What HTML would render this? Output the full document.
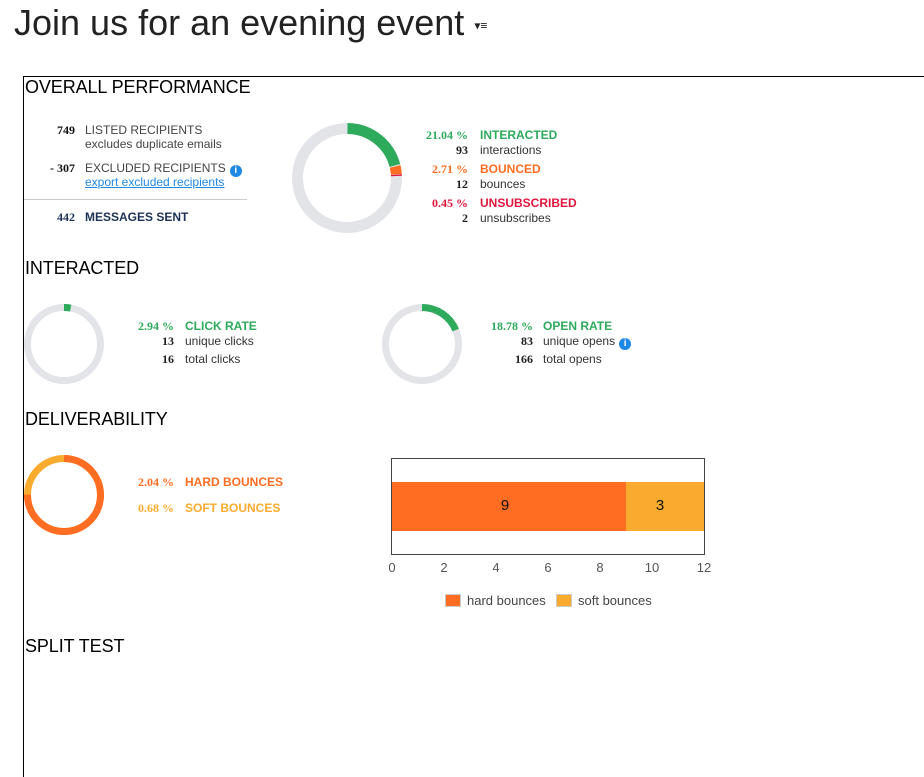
<!DOCTYPE html>
<html><head><meta charset="utf-8"><style>
body{margin:0;width:924px;height:724px;overflow:hidden;background:#fff;font-family:"Liberation Sans",Arial,sans-serif;position:relative}
.a{position:absolute;white-space:nowrap}
h1{position:absolute;left:14px;top:2px;margin:0;font-weight:normal;font-size:36px;color:#222}
.box{position:absolute;left:23px;top:76px;width:960px;height:700px;border-left:1px solid #000;border-top:1px solid #000}
.sec{position:absolute;left:25px;font-size:18px;color:#000;letter-spacing:-0.1px}
.n{font-family:"Liberation Serif",serif;font-weight:bold;font-size:12px;text-align:right;width:60px}
.l{font-size:12px;color:#444}
.b{font-weight:bold}
.i{display:inline-block;width:12px;height:12px;border-radius:6px;background:#1e88e5;color:#fff;font-size:10px;text-align:center;line-height:12px;font-weight:bold;vertical-align:-1px;margin-left:4px}
</style></head><body>
<h1>Join us for an evening event <span style="font-size:12px;vertical-align:middle">&#9662;&#8801;</span></h1>
<div class="box"></div>
<div class="sec" style="top:77px">OVERALL PERFORMANCE</div>
<div class="sec" style="top:258px">INTERACTED</div>
<div class="sec" style="top:409px">DELIVERABILITY</div>
<div class="sec" style="top:636px">SPLIT TEST</div>

<div class="a n" style="left:15px;top:123px;color:#111">749</div>
<div class="a l" style="left:85px;top:123px">LISTED RECIPIENTS</div>
<div class="a l" style="left:85px;top:137px">excludes duplicate emails</div>
<div class="a n" style="left:15px;top:161px;color:#111">- 307</div>
<div class="a l" style="left:85px;top:161px">EXCLUDED RECIPIENTS<span class="i">i</span></div>
<div class="a l" style="left:85px;top:175px;color:#1e88e5;text-decoration:underline">export excluded recipients</div>
<div class="a" style="left:24px;top:199px;width:223px;border-top:1px solid #ccc"></div>
<div class="a n" style="left:15px;top:210px;color:#1c3256">442</div>
<div class="a l b" style="left:85px;top:210px;color:#1c3256">MESSAGES SENT</div>

<svg class="a" style="left:0;top:0" width="924" height="724">
<g fill="none">
<circle cx="347" cy="178" r="49.5" stroke="#e3e4e8" stroke-width="11"/>
<circle cx="347" cy="178" r="49.5" stroke="#2eaa5c" stroke-width="11" stroke-dasharray="64.4 400" stroke-dashoffset="-0.5" transform="rotate(-90 347 178)"/>
<circle cx="347" cy="178" r="49.5" stroke="#ff6d22" stroke-width="11" stroke-dasharray="7.9 400" stroke-dashoffset="-65.9" transform="rotate(-90 347 178)"/>
<circle cx="347" cy="178" r="49.5" stroke="#e0163c" stroke-width="11" stroke-dasharray="1.4 400" stroke-dashoffset="-74.2" transform="rotate(-90 347 178)"/>

<circle cx="64" cy="344" r="36.5" stroke="#e3e4e8" stroke-width="7"/>
<circle cx="64" cy="344" r="36.5" stroke="#2eaa5c" stroke-width="7" stroke-dasharray="6.7 400" transform="rotate(-90 64 344)"/>
<circle cx="422" cy="344" r="36.5" stroke="#e3e4e8" stroke-width="7"/>
<circle cx="422" cy="344" r="36.5" stroke="#2eaa5c" stroke-width="7" stroke-dasharray="43 400" transform="rotate(-90 422 344)"/>

<circle cx="64" cy="495" r="36.5" stroke="#f9ab2f" stroke-width="7"/>
<circle cx="64" cy="495" r="36.5" stroke="#ff6d22" stroke-width="7" stroke-dasharray="172 400" transform="rotate(-90 64 495)"/>
</g>
<rect x="391.5" y="458.5" width="313" height="96" fill="#fff" stroke="#444"/>
<rect x="392" y="482" width="234" height="49" fill="#ff6d22"/>
<rect x="626" y="482" width="78" height="49" fill="#f9ab2f"/>
<g font-size="15" fill="#111" text-anchor="middle"><text x="505" y="510">9</text><text x="660" y="510">3</text></g>
<g font-size="13" fill="#555" text-anchor="middle">
<text x="392" y="572">0</text><text x="444" y="572">2</text><text x="496" y="572">4</text><text x="548" y="572">6</text><text x="600" y="572">8</text><text x="652" y="572">10</text><text x="704" y="572">12</text>
</g>
<rect x="445.5" y="594.5" width="15" height="12" fill="#ff6d22" stroke="#ccc"/>
<rect x="556.5" y="594.5" width="15" height="12" fill="#f9ab2f" stroke="#ccc"/>
<g font-size="13" fill="#444"><text x="467" y="605">hard bounces</text><text x="578" y="605">soft bounces</text></g>
</svg>

<div class="a n" style="left:408px;top:128px;color:#2eaa5c">21.04 %</div>
<div class="a l b" style="left:480px;top:128px;color:#2eaa5c">INTERACTED</div>
<div class="a n" style="left:408px;top:143px;color:#222">93</div>
<div class="a l" style="left:480px;top:143px;color:#333">interactions</div>
<div class="a n" style="left:408px;top:162px;color:#ff6d22">2.71 %</div>
<div class="a l b" style="left:480px;top:162px;color:#ff6d22">BOUNCED</div>
<div class="a n" style="left:408px;top:177px;color:#222">12</div>
<div class="a l" style="left:480px;top:177px;color:#333">bounces</div>
<div class="a n" style="left:408px;top:196px;color:#e0163c">0.45 %</div>
<div class="a l b" style="left:480px;top:196px;color:#e0163c">UNSUBSCRIBED</div>
<div class="a n" style="left:408px;top:211px;color:#222">2</div>
<div class="a l" style="left:480px;top:211px;color:#333">unsubscribes</div>

<div class="a n" style="left:114px;top:319px;color:#2eaa5c">2.94 %</div>
<div class="a l b" style="left:185px;top:319px;color:#2eaa5c">CLICK RATE</div>
<div class="a n" style="left:114px;top:334px;color:#222">13</div>
<div class="a l" style="left:185px;top:334px;color:#333">unique clicks</div>
<div class="a n" style="left:114px;top:352px;color:#222">16</div>
<div class="a l" style="left:185px;top:352px;color:#333">total clicks</div>

<div class="a n" style="left:473px;top:319px;color:#2eaa5c">18.78 %</div>
<div class="a l b" style="left:543px;top:319px;color:#2eaa5c">OPEN RATE</div>
<div class="a n" style="left:473px;top:334px;color:#222">83</div>
<div class="a l" style="left:543px;top:334px;color:#333">unique opens<span class="i">i</span></div>
<div class="a n" style="left:473px;top:352px;color:#222">166</div>
<div class="a l" style="left:543px;top:352px;color:#333">total opens</div>

<div class="a n" style="left:114px;top:475px;color:#ff6d22">2.04 %</div>
<div class="a l b" style="left:185px;top:475px;color:#ff6d22">HARD BOUNCES</div>
<div class="a n" style="left:114px;top:501px;color:#f9ab2f">0.68 %</div>
<div class="a l b" style="left:185px;top:501px;color:#f9ab2f">SOFT BOUNCES</div>
</body></html>
